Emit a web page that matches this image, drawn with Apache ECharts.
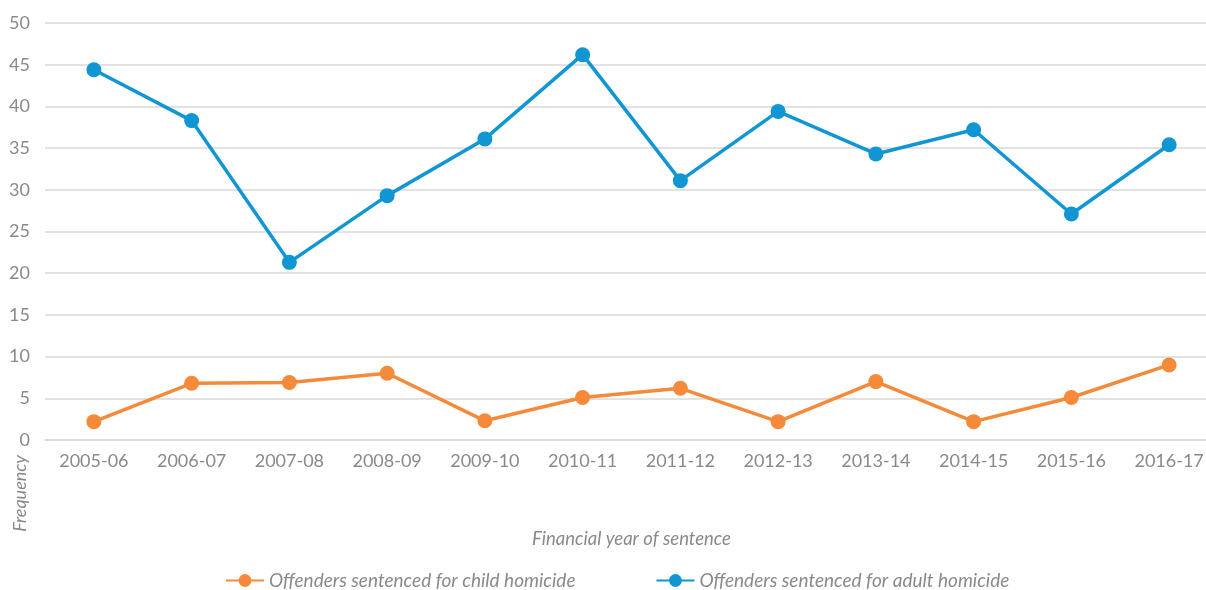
<!DOCTYPE html>
<html>
<head>
<meta charset="utf-8">
<script src="https://cdn.jsdelivr.net/npm/echarts@6/dist/echarts.min.js"></script>
<style>
html,body{margin:0;padding:0;background:#fff;overflow:hidden;}
#chart{width:1220px;height:590px;}
</style>
</head>
<body>
<div id="chart"></div>
<script>
const categories = ['2005-06','2006-07','2007-08','2008-09','2009-10','2010-11','2011-12','2012-13','2013-14','2014-15','2015-16','2016-17'];
const childHomicide = [2.2, 6.8, 6.9, 8.0, 2.3, 5.1, 6.2, 2.2, 7.0, 2.2, 5.1, 9.0];
const adultHomicide = [44.4, 38.3, 21.3, 29.3, 36.1, 46.2, 31.1, 39.4, 34.3, 37.2, 27.1, 35.4];
const seriesNames = ['Offenders sentenced for child homicide', 'Offenders sentenced for adult homicide'];
const xAxisTitle = 'Financial year of sentence';
const yAxisTitle = 'Frequency';

const FONT = 'Lato, "Open Sans", sans-serif';
const GREY = '#8a8a8a';
const chart = echarts.init(document.getElementById('chart'), null, {renderer: 'canvas', width: 1220, height: 590});
chart.setOption({
  animation: false,
  backgroundColor: '#fff',
  grid: {left: 45, width: 1173, top: 23, height: 417, containLabel: false},
  legend: {
    top: 566,
    left: 220,
    itemGap: 80,
    itemWidth: 38,
    itemHeight: 16,
    data: seriesNames,
    textStyle: {color: GREY, fontSize: 19, fontStyle: 'italic', fontFamily: FONT}
  },
  xAxis: {
    type: 'category',
    data: categories,
    boundaryGap: true,
    axisLine: {lineStyle: {color: '#d9d9d9', width: 1.5}},
    axisTick: {show: false},
    axisLabel: {color: GREY, fontSize: 18, fontFamily: FONT, margin: 12},
    name: xAxisTitle,
    nameLocation: 'middle',
    nameGap: 90,
    nameTextStyle: {color: GREY, fontSize: 18.5, fontStyle: 'italic', fontFamily: FONT}
  },
  yAxis: {
    type: 'value',
    min: 0, max: 50, interval: 5,
    axisLine: {show: false},
    axisTick: {show: false},
    axisLabel: {color: GREY, fontSize: 18, fontFamily: FONT, margin: 15},
    splitLine: {lineStyle: {color: '#d9d9d9', width: 1.5}}
  },
  graphic: [{
    type: 'text',
    left: 11, top: 455,
    rotation: Math.PI / 2,
    style: {text: yAxisTitle, fill: GREY, font: 'italic 18px ' + FONT}
  }],
  series: [
    {
      name: seriesNames[0], type: 'line', data: childHomicide,
      symbol: 'circle', symbolSize: 15,
      lineStyle: {color: '#f58a3b', width: 3.5},
      itemStyle: {color: '#f58a3b'}
    },
    {
      name: seriesNames[1], type: 'line', data: adultHomicide,
      symbol: 'circle', symbolSize: 15,
      lineStyle: {color: '#0f96d3', width: 3.5},
      itemStyle: {color: '#0f96d3'}
    }
  ]
});
</script>
</body>
</html>
